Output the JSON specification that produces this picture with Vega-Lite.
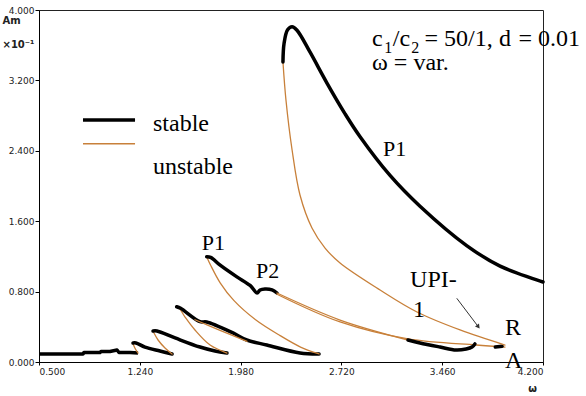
{
  "$schema": "https://vega.github.io/schema/vega-lite/v6.json",
  "width": 504,
  "height": 352,
  "autosize": "none",
  "padding": {"left": 39, "top": 10, "right": 43, "bottom": 34},
  "background": "white",
  "config": {
    "view": {"stroke": "#222", "strokeWidth": 1},
    "axis": {"grid": false, "domainColor": "#000", "tickColor": "#000", "labelFont": "DejaVu Sans", "labelFontSize": 9, "labelColor": "#222", "titleFont": "DejaVu Sans", "titleColor": "#222"}
  },
  "datasets": {
    "lines": [
      {"seg": "B0", "st": "stable", "o": 1, "w": 0.5, "a": 0.091},
      {"seg": "B0", "st": "stable", "o": 2, "w": 0.823, "a": 0.091},
      {"seg": "B0", "st": "stable", "o": 3, "w": 0.83, "a": 0.108},
      {"seg": "B0", "st": "stable", "o": 4, "w": 0.948, "a": 0.108},
      {"seg": "B0", "st": "stable", "o": 5, "w": 0.955, "a": 0.119},
      {"seg": "B0", "st": "stable", "o": 6, "w": 1.021, "a": 0.119},
      {"seg": "B0", "st": "stable", "o": 7, "w": 1.073, "a": 0.136},
      {"seg": "B0", "st": "stable", "o": 8, "w": 1.087, "a": 0.108},
      {"seg": "B0", "st": "stable", "o": 9, "w": 1.168, "a": 0.108},
      {"seg": "B0", "st": "stable", "o": 10, "w": 1.227, "a": 0.102},
      {"seg": "OA", "st": "unstable", "o": 1, "w": 1.227, "a": 0.102},
      {"seg": "OA", "st": "unstable", "o": 2, "w": 1.212, "a": 0.136},
      {"seg": "OA", "st": "unstable", "o": 3, "w": 1.197, "a": 0.182},
      {"seg": "OA", "st": "unstable", "o": 4, "w": 1.19, "a": 0.216},
      {"seg": "BA", "st": "stable", "o": 1, "w": 1.19, "a": 0.216},
      {"seg": "BA", "st": "stable", "o": 2, "w": 1.212, "a": 0.216},
      {"seg": "BA", "st": "stable", "o": 3, "w": 1.278, "a": 0.17},
      {"seg": "BA", "st": "stable", "o": 4, "w": 1.388, "a": 0.125},
      {"seg": "BA", "st": "stable", "o": 5, "w": 1.477, "a": 0.091},
      {"seg": "OB", "st": "unstable", "o": 1, "w": 1.477, "a": 0.091},
      {"seg": "OB", "st": "unstable", "o": 2, "w": 1.425, "a": 0.159},
      {"seg": "OB", "st": "unstable", "o": 3, "w": 1.374, "a": 0.25},
      {"seg": "OB", "st": "unstable", "o": 4, "w": 1.344, "a": 0.33},
      {"seg": "OB", "st": "unstable", "o": 5, "w": 1.337, "a": 0.352},
      {"seg": "BB", "st": "stable", "o": 1, "w": 1.337, "a": 0.352},
      {"seg": "BB", "st": "stable", "o": 2, "w": 1.366, "a": 0.352},
      {"seg": "BB", "st": "stable", "o": 3, "w": 1.499, "a": 0.273},
      {"seg": "BB", "st": "stable", "o": 4, "w": 1.682, "a": 0.17},
      {"seg": "BB", "st": "stable", "o": 5, "w": 1.792, "a": 0.125},
      {"seg": "BB", "st": "stable", "o": 6, "w": 1.88, "a": 0.102},
      {"seg": "OC", "st": "unstable", "o": 1, "w": 1.88, "a": 0.102},
      {"seg": "OC", "st": "unstable", "o": 2, "w": 1.756, "a": 0.193},
      {"seg": "OC", "st": "unstable", "o": 3, "w": 1.645, "a": 0.364},
      {"seg": "OC", "st": "unstable", "o": 4, "w": 1.572, "a": 0.511},
      {"seg": "OC", "st": "unstable", "o": 5, "w": 1.528, "a": 0.614},
      {"seg": "OC", "st": "unstable", "o": 6, "w": 1.511, "a": 0.628},
      {"seg": "BC", "st": "stable", "o": 1, "w": 1.511, "a": 0.628},
      {"seg": "BC", "st": "stable", "o": 2, "w": 1.54, "a": 0.61},
      {"seg": "BC", "st": "stable", "o": 3, "w": 1.682, "a": 0.458},
      {"seg": "BC", "st": "stable", "o": 4, "w": 1.731, "a": 0.455},
      {"seg": "BC", "st": "stable", "o": 5, "w": 1.924, "a": 0.33},
      {"seg": "BC", "st": "stable", "o": 6, "w": 2.025, "a": 0.25},
      {"seg": "BC", "st": "stable", "o": 7, "w": 2.172, "a": 0.193},
      {"seg": "BC", "st": "stable", "o": 8, "w": 2.416, "a": 0.102},
      {"seg": "BC", "st": "stable", "o": 9, "w": 2.556, "a": 0.091},
      {"seg": "OC2", "st": "unstable", "o": 1, "w": 1.645, "a": 0.48},
      {"seg": "OC2", "st": "unstable", "o": 2, "w": 1.829, "a": 0.36},
      {"seg": "OC2", "st": "unstable", "o": 3, "w": 2.027, "a": 0.235},
      {"seg": "OD", "st": "unstable", "o": 1, "w": 1.731, "a": 1.197},
      {"seg": "OD", "st": "unstable", "o": 2, "w": 1.76, "a": 1.1},
      {"seg": "OD", "st": "unstable", "o": 3, "w": 1.83, "a": 0.9},
      {"seg": "OD", "st": "unstable", "o": 4, "w": 1.93, "a": 0.7},
      {"seg": "OD", "st": "unstable", "o": 5, "w": 2.09, "a": 0.48},
      {"seg": "OD", "st": "unstable", "o": 6, "w": 2.27, "a": 0.3},
      {"seg": "OD", "st": "unstable", "o": 7, "w": 2.42, "a": 0.17},
      {"seg": "OD", "st": "unstable", "o": 8, "w": 2.556, "a": 0.091},
      {"seg": "BP1", "st": "stable", "o": 1, "w": 1.731, "a": 1.197},
      {"seg": "BP1", "st": "stable", "o": 2, "w": 1.76, "a": 1.19},
      {"seg": "BP1", "st": "stable", "o": 3, "w": 1.83, "a": 1.1},
      {"seg": "BP1", "st": "stable", "o": 4, "w": 1.95, "a": 0.97},
      {"seg": "BP1", "st": "stable", "o": 5, "w": 2.05, "a": 0.87},
      {"seg": "BP1", "st": "stable", "o": 6, "w": 2.101, "a": 0.784},
      {"seg": "BP1", "st": "stable", "o": 7, "w": 2.123, "a": 0.818},
      {"seg": "BP1", "st": "stable", "o": 8, "w": 2.159, "a": 0.83},
      {"seg": "BP1", "st": "stable", "o": 9, "w": 2.211, "a": 0.82},
      {"seg": "BP1", "st": "stable", "o": 10, "w": 2.247, "a": 0.784},
      {"seg": "OP2a", "st": "unstable", "o": 1, "w": 2.247, "a": 0.784},
      {"seg": "OP2a", "st": "unstable", "o": 2, "w": 2.71, "a": 0.477},
      {"seg": "OP2a", "st": "unstable", "o": 3, "w": 3.209, "a": 0.25},
      {"seg": "OP2b", "st": "unstable", "o": 1, "w": 2.247, "a": 0.77},
      {"seg": "OP2b", "st": "unstable", "o": 2, "w": 2.71, "a": 0.455},
      {"seg": "OP2b", "st": "unstable", "o": 3, "w": 3.21, "a": 0.262},
      {"seg": "OP2b", "st": "unstable", "o": 4, "w": 3.709, "a": 0.193},
      {"seg": "OP2b", "st": "unstable", "o": 5, "w": 3.921, "a": 0.17},
      {"seg": "BL", "st": "stable", "o": 1, "w": 3.209, "a": 0.25},
      {"seg": "BL", "st": "stable", "o": 2, "w": 3.297, "a": 0.216},
      {"seg": "BL", "st": "stable", "o": 3, "w": 3.444, "a": 0.17},
      {"seg": "BL", "st": "stable", "o": 4, "w": 3.562, "a": 0.136},
      {"seg": "BL", "st": "stable", "o": 5, "w": 3.636, "a": 0.148},
      {"seg": "BL", "st": "stable", "o": 6, "w": 3.679, "a": 0.17},
      {"seg": "BL", "st": "stable", "o": 7, "w": 3.7, "a": 0.205},
      {"seg": "BR", "st": "stable", "o": 1, "w": 3.85, "a": 0.17},
      {"seg": "BR", "st": "stable", "o": 2, "w": 3.9, "a": 0.18},
      {"seg": "OM", "st": "unstable", "o": 1, "w": 3.921, "a": 0.193},
      {"seg": "OM", "st": "unstable", "o": 2, "w": 3.591, "a": 0.364},
      {"seg": "OM", "st": "unstable", "o": 3, "w": 3.275, "a": 0.568},
      {"seg": "OM", "st": "unstable", "o": 4, "w": 3.004, "a": 0.818},
      {"seg": "OM", "st": "unstable", "o": 5, "w": 2.71, "a": 1.125},
      {"seg": "OM", "st": "unstable", "o": 6, "w": 2.6, "a": 1.295},
      {"seg": "OM", "st": "unstable", "o": 7, "w": 2.504, "a": 1.523},
      {"seg": "OM", "st": "unstable", "o": 8, "w": 2.416, "a": 1.898},
      {"seg": "OM", "st": "unstable", "o": 9, "w": 2.358, "a": 2.409},
      {"seg": "OM", "st": "unstable", "o": 10, "w": 2.313, "a": 2.977},
      {"seg": "OM", "st": "unstable", "o": 11, "w": 2.291, "a": 3.409},
      {"seg": "BM", "st": "stable", "o": 1, "w": 2.291, "a": 3.409},
      {"seg": "BM", "st": "stable", "o": 2, "w": 2.299, "a": 3.62},
      {"seg": "BM", "st": "stable", "o": 3, "w": 2.325, "a": 3.775},
      {"seg": "BM", "st": "stable", "o": 4, "w": 2.358, "a": 3.81},
      {"seg": "BM", "st": "stable", "o": 5, "w": 2.394, "a": 3.77},
      {"seg": "BM", "st": "stable", "o": 6, "w": 2.49, "a": 3.52},
      {"seg": "BM", "st": "stable", "o": 7, "w": 2.614, "a": 3.17},
      {"seg": "BM", "st": "stable", "o": 8, "w": 2.747, "a": 2.82},
      {"seg": "BM", "st": "stable", "o": 9, "w": 2.857, "a": 2.56},
      {"seg": "BM", "st": "stable", "o": 10, "w": 3.077, "a": 2.12},
      {"seg": "BM", "st": "stable", "o": 11, "w": 3.297, "a": 1.77},
      {"seg": "BM", "st": "stable", "o": 12, "w": 3.642, "a": 1.32},
      {"seg": "BM", "st": "stable", "o": 13, "w": 3.885, "a": 1.09},
      {"seg": "BM", "st": "stable", "o": 14, "w": 4.2, "a": 0.909},
      {"seg": "LS", "st": "stable", "o": 1, "w": 0.823, "a": 2.75},
      {"seg": "LS", "st": "stable", "o": 2, "w": 1.205, "a": 2.75},
      {"seg": "LU", "st": "unstable", "o": 1, "w": 0.823, "a": 2.48},
      {"seg": "LU", "st": "unstable", "o": 2, "w": 1.205, "a": 2.48}
    ],
    "labels": [
      {"t": "P1", "w": 3.026, "a": 2.341, "s": 22, "it": "normal"},
      {"t": "P1", "w": 1.695, "a": 1.273, "s": 22, "it": "normal"},
      {"t": "P2", "w": 2.093, "a": 0.951, "s": 22, "it": "normal"},
      {"t": "UPI-", "w": 3.224, "a": 0.856, "s": 24, "it": "normal"},
      {"t": "1", "w": 3.246, "a": 0.515, "s": 24, "it": "normal"},
      {"t": "R", "w": 3.921, "a": 0.307, "s": 24, "it": "normal"},
      {"t": "A", "w": 3.921, "a": -0.068, "s": 24, "it": "normal"},
      {"t": "c", "w": 2.945, "a": 3.591, "s": 24, "it": "italic"},
      {"t": "1", "w": 3.034, "a": 3.51, "s": 16, "it": "normal"},
      {"t": "/", "w": 3.097, "a": 3.591, "s": 24, "it": "normal"},
      {"t": "c", "w": 3.147, "a": 3.591, "s": 24, "it": "italic"},
      {"t": "2", "w": 3.232, "a": 3.51, "s": 16, "it": "normal"},
      {"t": "= 50/1,", "w": 3.33, "a": 3.591, "s": 24, "it": "normal"},
      {"t": "d", "w": 3.877, "a": 3.591, "s": 24, "it": "italic"},
      {"t": "= 0.01", "w": 4.02, "a": 3.591, "s": 24, "it": "normal"},
      {"t": "ω = var.", "w": 2.945, "a": 3.318, "s": 24, "it": "normal"},
      {"t": "stable", "w": 1.337, "a": 2.625, "s": 24, "it": "normal"},
      {"t": "unstable", "w": 1.337, "a": 2.136, "s": 24, "it": "normal"}
    ],
    "arrow": [
      {"w": 3.567, "a": 0.724, "w2": 3.725, "a2": 0.401}
    ]
  },
  "encoding": {
    "x": {"field": "w", "type": "quantitative", "scale": {"domain": [0.5, 4.2], "nice": false, "zero": false},
      "axis": {"values": [0.5, 1.24, 1.98, 2.72, 3.46, 4.2], "format": ".3f", "tickSize": 3, "labelDx": -7, "labelPadding": 2, "title": "ω", "titleX": 493, "titleY": 31, "titleFontSize": 10, "titleFontWeight": "bold", "titleBaseline": "bottom"}},
    "y": {"field": "a", "type": "quantitative", "scale": {"domain": [0, 4], "nice": false},
      "axis": {"values": [0, 0.8, 1.6, 2.4, 3.2, 4], "format": ".3f", "tickSize": 4, "labelPadding": 1, "title": ["Am", "×10⁻¹"], "titleAngle": 0, "titleAlign": "left", "titleBaseline": "top", "titleX": -37, "titleY": 5, "titleFontSize": 10, "titleFontWeight": "bold", "titleLineHeight": 24}}
  },
  "layer": [
    {
      "data": {"name": "lines"},
      "transform": [{"filter": "datum.seg === 'B0' || datum.seg === 'LS' || datum.seg === 'LU'"}],
      "mark": {"type": "line", "strokeCap": "butt", "strokeJoin": "round"},
      "encoding": {
        "color": {"field": "st", "type": "nominal", "scale": {"domain": ["stable", "unstable"], "range": ["#000000", "#c8803a"]}, "legend": null},
        "strokeWidth": {"field": "st", "type": "nominal", "scale": {"domain": ["stable", "unstable"], "range": [3.5, 1.3]}, "legend": null},
        "detail": {"field": "seg"},
        "order": {"field": "o", "type": "quantitative"}
      }
    },
    {
      "data": {"name": "lines"},
      "transform": [{"filter": "datum.seg !== 'B0' && datum.seg !== 'LS' && datum.seg !== 'LU'"}],
      "mark": {"type": "line", "interpolate": "catmull-rom", "strokeCap": "round", "strokeJoin": "round"},
      "encoding": {
        "color": {"field": "st", "type": "nominal", "scale": {"domain": ["stable", "unstable"], "range": ["#000000", "#c8803a"]}, "legend": null},
        "strokeWidth": {"field": "st", "type": "nominal", "scale": {"domain": ["stable", "unstable"], "range": [3.5, 1.3]}, "legend": null},
        "detail": {"field": "seg"},
        "order": {"field": "o", "type": "quantitative"}
      }
    },
    {
      "data": {"name": "labels"},
      "mark": {"type": "text", "align": "left", "baseline": "alphabetic", "font": "Liberation Serif", "color": "#000"},
      "encoding": {
        "text": {"field": "t"},
        "size": {"field": "s", "type": "quantitative", "scale": null},
        "fontStyle": {"field": "it", "type": "nominal", "scale": null}
      }
    },
    {
      "data": {"name": "arrow"},
      "mark": {"type": "rule", "color": "#333", "strokeWidth": 1},
      "encoding": {
        "x2": {"field": "w2"},
        "y2": {"field": "a2"}
      }
    },
    {
      "data": {"name": "arrow"},
      "mark": {"type": "point", "shape": "triangle-down", "filled": true, "color": "#333", "size": 25, "angle": 323, "opacity": 1},
      "encoding": {
        "x": {"field": "w2", "type": "quantitative"},
        "y": {"field": "a2", "type": "quantitative"}
      }
    }
  ]
}
